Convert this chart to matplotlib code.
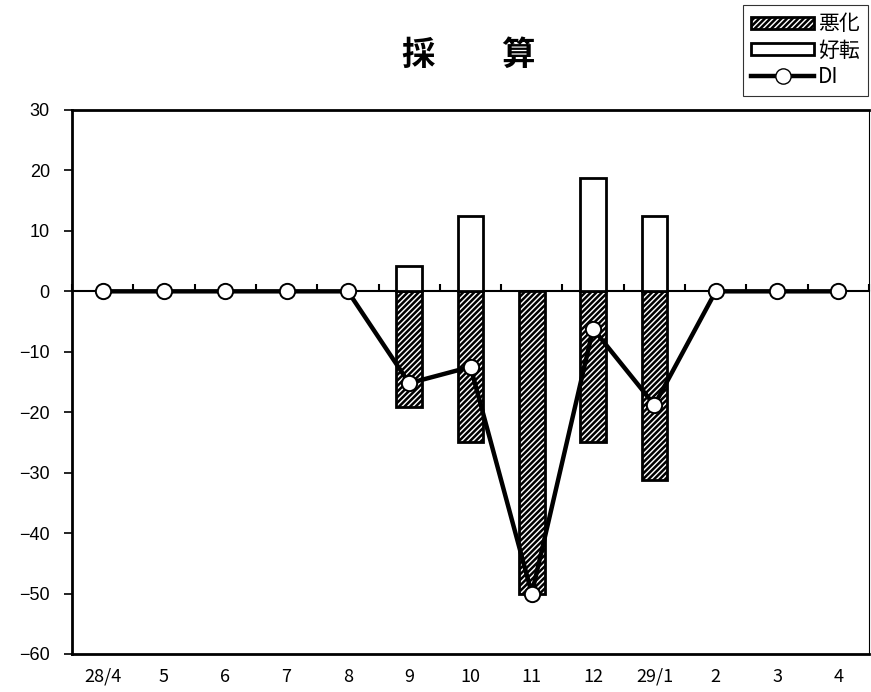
import matplotlib.pyplot as plt
import numpy as np
from matplotlib.patches import Patch
from matplotlib.lines import Line2D

plt.rcParams['font.family'] = ['Noto Sans CJK JP', 'DejaVu Sans']
plt.rcParams['hatch.linewidth'] = 1.8

# data
months = ["28/4", "5", "6", "7", "8", "9", "10", "11", "12", "29/1", "2", "3", "4"]
worse = [0, 0, 0, 0, 0, -19.2, -25.0, -50.0, -25.0, -31.2, 0, 0, 0]
better = [0, 0, 0, 0, 0, 4.2, 12.5, 0, 18.8, 12.5, 0, 0, 0]
di = [0, 0, 0, 0, 0, -15.2, -12.5, -50.0, -6.2, -18.8, 0, 0, 0]

x = np.arange(len(months))

fig = plt.figure(figsize=(8.71, 6.92), dpi=100)
ax = fig.add_axes([72 / 871, 38 / 692, 797 / 871, 544 / 692])

w = 0.42
# only draw bars that are nonzero
for xi, v in zip(x, worse):
    if v != 0:
        ax.bar(xi, v, width=w, color='white', edgecolor='black', hatch='//////', linewidth=2, zorder=2)
for xi, v in zip(x, better):
    if v != 0:
        ax.bar(xi, v, width=w, color='white', edgecolor='black', linewidth=2, zorder=2)
ax.plot(x, di, color='black', lw=3.2, marker='o', ms=11, mfc='white', mec='black', mew=1.4, zorder=4)

ax.set_xlim(-0.5, len(months) - 0.5)
ax.set_ylim(-60, 30)
ax.set_yticks(np.arange(-60, 31, 10))
ax.set_yticklabels([str(v).replace('-', '\u2212') for v in range(-60, 31, 10)],
                   family=['Liberation Sans', 'DejaVu Sans'], fontsize=13)
ax.tick_params(axis='y', direction='out', length=6, width=1.2, pad=10)

ax.set_xticks(x)
ax.set_xticklabels(months, fontsize=13)
ax.tick_params(axis='x', length=0, pad=10)

for s in ['left', 'top', 'bottom']:
    ax.spines[s].set_linewidth(2)
ax.spines['right'].set_linewidth(0.8)

# category axis at zero with boundary ticks
ax2 = ax.twiny()
ax2.set_xlim(ax.get_xlim())
ax2.xaxis.set_ticks_position('bottom')
ax2.spines['bottom'].set_position(('data', 0))
ax2.spines['bottom'].set_linewidth(1.5)
for s in ['left', 'right', 'top']:
    ax2.spines[s].set_visible(False)
ax2.set_xticks(np.arange(-0.5, len(months), 1.0))
ax2.set_xticklabels([])
ax2.tick_params(axis='x', direction='in', length=5, width=1.5)
ax2.set_zorder(0)
ax.set_zorder(1)
ax.patch.set_visible(False)

fig.text(469 / 871, 1 - 55 / 692, "採　　算", fontsize=24, fontweight='bold', ha='center', va='center')

# legend
handles = [Patch(facecolor='white', edgecolor='black', hatch='//////', lw=2),
           Patch(facecolor='white', edgecolor='black', lw=2),
           Line2D([], [], color='black', lw=3.2, marker='o', ms=11, mfc='white', mec='black')]
leg = fig.legend(handles, ['悪化', '好転', 'DI'], loc='upper right',
                 bbox_to_anchor=(868 / 871, 1 - 5 / 692), fontsize=15, frameon=True,
                 fancybox=False, edgecolor='black', handlelength=3.0, handleheight=0.55,
                 handletextpad=0.2, labelspacing=0.2, borderpad=0.4, borderaxespad=0)
leg.get_frame().set_linewidth(0.8)

fig.savefig('out.png', dpi=100)
